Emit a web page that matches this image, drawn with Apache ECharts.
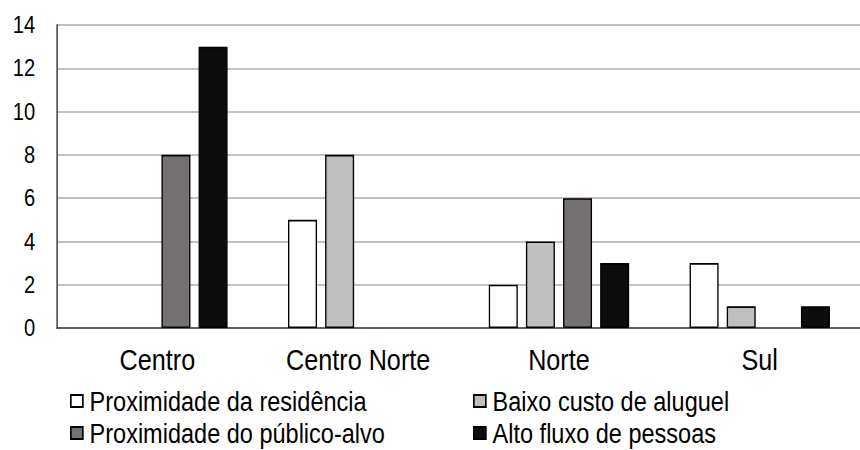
<!DOCTYPE html>
<html>
<head>
<meta charset="utf-8">
<script src="https://cdn.jsdelivr.net/npm/echarts@6/dist/echarts.min.js"></script>
<style>
html,body{margin:0;padding:0;background:#fff;overflow:hidden}
#wrap{width:860px;height:450px;overflow:hidden;position:relative}
#c{width:1024px;height:450px;transform:scaleX(0.84);transform-origin:0 0}
</style>
</head>
<body>
<div id="wrap"><div id="c"></div></div>
<script>
var categories = ['Centro', 'Centro Norte', 'Norte', 'Sul'];
var seriesNames = ['Proximidade da residência', 'Baixo custo de aluguel', 'Proximidade do público-alvo', 'Alto fluxo de pessoas'];
var residencia = [0, 5, 2, 3];
var aluguel = [0, 8, 4, 1];
var publicoAlvo = [8, 0, 6, 0];
var fluxo = [13, 0, 3, 1];
var yTicks = [0, 2, 4, 6, 8, 10, 12, 14];

var values = [residencia, aluguel, publicoAlvo, fluxo];
var colors = ['#ffffff', '#bfbfbf', '#767171', '#0d0d0d'];
var font = '"Liberation Sans", Arial, sans-serif';
var sx = 0.84; // horizontal compression of the reference artwork

var chart = echarts.init(document.getElementById('c'), null, {renderer: 'svg'});
var series = values.map(function (arr, i) {
  return {
    name: seriesNames[i],
    type: 'bar',
    data: arr.map(function (v) { return v === 0 ? null : v; }),
    barWidth: 29 / sx,
    barGap: '28%',
    itemStyle: {color: colors[i], borderColor: '#000', borderWidth: 1.6},
    emphasis: {disabled: true}
  };
});
var legendPos = [[70, 387], [473, 387], [70, 419], [473, 419]];
var legends = seriesNames.map(function (n, i) {
  return {
    data: [n], left: legendPos[i][0] / sx, top: legendPos[i][1], padding: 0,
    itemWidth: 12 / sx, itemHeight: 12, itemGap: 0, icon: 'rect', selectedMode: false,
    textStyle: {fontSize: 28, lineHeight: 28, color: '#000', fontFamily: font, padding: [0, 0, 0, 3]}
  };
});
chart.setOption({
  animation: false,
  backgroundColor: '#fff',
  textStyle: {fontFamily: font},
  grid: {left: 57 / sx, top: 25, width: 813 / sx, height: 303, containLabel: false},
  legend: legends,
  xAxis: {
    type: 'category', data: categories,
    axisLine: {lineStyle: {color: '#404040', width: 1.5}},
    axisTick: {show: false},
    axisLabel: {fontSize: 30, color: '#000', margin: 17, fontFamily: font, interval: 0}
  },
  yAxis: {
    type: 'value', min: yTicks[0], max: yTicks[yTicks.length - 1], interval: 2,
    axisLine: {show: true, lineStyle: {color: '#404040', width: 1.8}},
    axisTick: {show: false},
    axisLabel: {fontSize: 24, color: '#000', margin: 26, fontFamily: font},
    splitLine: {lineStyle: {color: '#aeaaaa', width: 1.5}}
  },
  series: series
});
</script>
</body>
</html>
